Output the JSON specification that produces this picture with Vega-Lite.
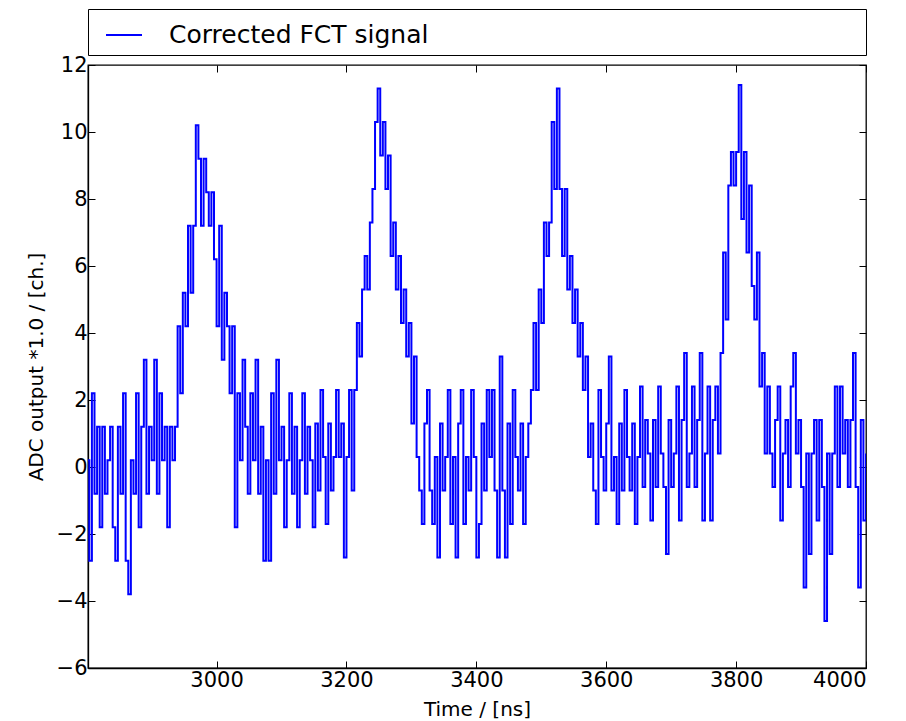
{
"$schema": "https://vega.github.io/schema/vega-lite/v6.json",
"width": 778, "height": 603,
"autosize": {"type": "none"},
"padding": {"left": 88, "top": 65, "right": 40, "bottom": 53},
"background": "white",
"config": {
 "font": "DejaVu Sans",
 "view": {"stroke": "#000", "strokeWidth": 1.3},
 "axis": {"grid": false, "domainColor": "#000", "domainWidth": 1.3, "tickColor": "#000", "tickSize": -7, "tickWidth": 1, "labelFont": "DejaVu Sans", "labelFontSize": 21, "labelColor": "#000", "titleFont": "DejaVu Sans", "titleFontSize": 20, "titleFontWeight": "normal", "titleColor": "#000"}
},
"data": {"values": [
{"t":2800,"v":0.2},{"t":2804,"v":-2.8},{"t":2808,"v":2.2},{"t":2812,"v":-0.8},{"t":2816,"v":1.2},{"t":2820,"v":-1.8},{"t":2824,"v":1.2},{"t":2828,"v":-0.8},{"t":2832,"v":0.2},{"t":2836,"v":1.2},
{"t":2840,"v":-1.8},{"t":2844,"v":-2.8},{"t":2848,"v":1.2},{"t":2852,"v":-0.8},{"t":2856,"v":2.2},{"t":2860,"v":-2.8},{"t":2864,"v":-3.8},{"t":2868,"v":0.2},{"t":2872,"v":-0.8},{"t":2876,"v":2.2},
{"t":2880,"v":-1.8},{"t":2884,"v":1.2},{"t":2888,"v":3.2},{"t":2892,"v":-0.8},{"t":2896,"v":1.2},{"t":2900,"v":0.2},{"t":2904,"v":3.2},{"t":2908,"v":-0.8},{"t":2912,"v":2.2},{"t":2916,"v":0.2},
{"t":2920,"v":1.2},{"t":2924,"v":-1.8},{"t":2928,"v":1.2},{"t":2932,"v":0.2},{"t":2936,"v":1.2},{"t":2940,"v":4.2},{"t":2944,"v":2.2},{"t":2948,"v":5.2},{"t":2952,"v":4.2},{"t":2956,"v":7.2},
{"t":2960,"v":5.2},{"t":2964,"v":7.2},{"t":2968,"v":10.2},{"t":2972,"v":9.2},{"t":2976,"v":7.2},{"t":2980,"v":9.2},{"t":2984,"v":8.2},{"t":2988,"v":7.2},{"t":2992,"v":8.2},{"t":2996,"v":6.2},
{"t":3000,"v":4.2},{"t":3004,"v":7.2},{"t":3008,"v":3.2},{"t":3012,"v":5.2},{"t":3016,"v":4.2},{"t":3020,"v":2.2},{"t":3024,"v":4.2},{"t":3028,"v":-1.8},{"t":3032,"v":2.2},{"t":3036,"v":0.2},
{"t":3040,"v":3.2},{"t":3044,"v":1.2},{"t":3048,"v":-0.8},{"t":3052,"v":2.2},{"t":3056,"v":0.2},{"t":3060,"v":3.2},{"t":3064,"v":-0.8},{"t":3068,"v":1.2},{"t":3072,"v":-2.8},{"t":3076,"v":0.2},
{"t":3080,"v":-2.8},{"t":3084,"v":2.2},{"t":3088,"v":-0.8},{"t":3092,"v":3.2},{"t":3096,"v":0.2},{"t":3100,"v":1.2},{"t":3104,"v":-1.8},{"t":3108,"v":0.2},{"t":3112,"v":2.2},{"t":3116,"v":-0.8},
{"t":3120,"v":1.2},{"t":3124,"v":-1.8},{"t":3128,"v":0.2},{"t":3132,"v":2.2},{"t":3136,"v":-0.8},{"t":3140,"v":1.2},{"t":3144,"v":0.2},{"t":3148,"v":-1.8},{"t":3152,"v":1.3},{"t":3156,"v":-0.7},
{"t":3160,"v":2.3},{"t":3164,"v":0.3},{"t":3168,"v":-1.7},{"t":3172,"v":1.3},{"t":3176,"v":-0.7},{"t":3180,"v":0.3},{"t":3184,"v":2.3},{"t":3188,"v":0.3},{"t":3192,"v":1.3},{"t":3196,"v":-2.7},
{"t":3200,"v":0.3},{"t":3204,"v":2.3},{"t":3208,"v":-0.7},{"t":3212,"v":2.3},{"t":3216,"v":4.3},{"t":3220,"v":3.3},{"t":3224,"v":5.3},{"t":3228,"v":6.3},{"t":3232,"v":5.3},{"t":3236,"v":7.3},
{"t":3240,"v":8.3},{"t":3244,"v":10.3},{"t":3248,"v":11.3},{"t":3252,"v":9.3},{"t":3256,"v":10.3},{"t":3260,"v":8.3},{"t":3264,"v":9.3},{"t":3268,"v":6.3},{"t":3272,"v":7.3},{"t":3276,"v":5.3},
{"t":3280,"v":6.3},{"t":3284,"v":4.3},{"t":3288,"v":5.3},{"t":3292,"v":3.3},{"t":3296,"v":4.3},{"t":3300,"v":1.3},{"t":3304,"v":3.3},{"t":3308,"v":0.3},{"t":3312,"v":-0.7},{"t":3316,"v":-1.7},
{"t":3320,"v":1.3},{"t":3324,"v":2.3},{"t":3328,"v":-0.7},{"t":3332,"v":-1.7},{"t":3336,"v":0.3},{"t":3340,"v":-2.7},{"t":3344,"v":1.3},{"t":3348,"v":-0.7},{"t":3352,"v":0.3},{"t":3356,"v":2.3},
{"t":3360,"v":-1.7},{"t":3364,"v":0.3},{"t":3368,"v":-2.7},{"t":3372,"v":1.3},{"t":3376,"v":2.3},{"t":3380,"v":-1.7},{"t":3384,"v":0.3},{"t":3388,"v":-0.7},{"t":3392,"v":2.3},{"t":3396,"v":0.3},
{"t":3400,"v":-2.7},{"t":3404,"v":-1.7},{"t":3408,"v":1.3},{"t":3412,"v":-0.7},{"t":3416,"v":2.3},{"t":3420,"v":0.3},{"t":3424,"v":2.3},{"t":3428,"v":-0.7},{"t":3432,"v":-2.7},{"t":3436,"v":3.3},
{"t":3440,"v":-0.7},{"t":3444,"v":-2.7},{"t":3448,"v":1.3},{"t":3452,"v":-1.7},{"t":3456,"v":2.3},{"t":3460,"v":0.3},{"t":3464,"v":-0.7},{"t":3468,"v":1.3},{"t":3472,"v":-1.7},{"t":3476,"v":0.3},
{"t":3480,"v":1.3},{"t":3484,"v":2.3},{"t":3488,"v":4.3},{"t":3492,"v":2.3},{"t":3496,"v":5.3},{"t":3500,"v":4.3},{"t":3504,"v":7.3},{"t":3508,"v":6.3},{"t":3512,"v":7.3},{"t":3516,"v":10.3},
{"t":3520,"v":8.3},{"t":3524,"v":11.3},{"t":3528,"v":8.3},{"t":3532,"v":6.3},{"t":3536,"v":8.3},{"t":3540,"v":5.3},{"t":3544,"v":6.3},{"t":3548,"v":4.3},{"t":3552,"v":5.3},{"t":3556,"v":3.3},
{"t":3560,"v":4.3},{"t":3564,"v":2.3},{"t":3568,"v":3.3},{"t":3572,"v":0.3},{"t":3576,"v":1.3},{"t":3580,"v":-0.7},{"t":3584,"v":-1.7},{"t":3588,"v":2.3},{"t":3592,"v":0.3},{"t":3596,"v":-0.7},
{"t":3600,"v":1.3},{"t":3604,"v":3.3},{"t":3608,"v":-0.7},{"t":3612,"v":0.3},{"t":3616,"v":-1.7},{"t":3620,"v":1.3},{"t":3624,"v":-0.7},{"t":3628,"v":2.3},{"t":3632,"v":0.3},{"t":3636,"v":-0.7},
{"t":3640,"v":1.3},{"t":3644,"v":-1.7},{"t":3648,"v":0.3},{"t":3652,"v":2.4},{"t":3656,"v":-0.6},{"t":3660,"v":1.4},{"t":3664,"v":0.4},{"t":3668,"v":-1.6},{"t":3672,"v":1.4},{"t":3676,"v":-0.6},
{"t":3680,"v":2.4},{"t":3684,"v":0.4},{"t":3688,"v":-0.6},{"t":3692,"v":-2.6},{"t":3696,"v":1.4},{"t":3700,"v":-0.6},{"t":3704,"v":0.4},{"t":3708,"v":2.4},{"t":3712,"v":-1.6},{"t":3716,"v":1.4},
{"t":3720,"v":3.4},{"t":3724,"v":-0.6},{"t":3728,"v":0.4},{"t":3732,"v":2.4},{"t":3736,"v":-0.6},{"t":3740,"v":1.4},{"t":3744,"v":3.4},{"t":3748,"v":-1.6},{"t":3752,"v":0.4},{"t":3756,"v":2.4},
{"t":3760,"v":-1.6},{"t":3764,"v":1.4},{"t":3768,"v":2.4},{"t":3772,"v":0.4},{"t":3776,"v":3.4},{"t":3780,"v":6.4},{"t":3784,"v":4.4},{"t":3788,"v":8.4},{"t":3792,"v":9.4},{"t":3796,"v":8.4},
{"t":3800,"v":9.4},{"t":3804,"v":11.4},{"t":3808,"v":7.4},{"t":3812,"v":9.4},{"t":3816,"v":6.4},{"t":3820,"v":8.4},{"t":3824,"v":5.4},{"t":3828,"v":4.4},{"t":3832,"v":6.4},{"t":3836,"v":2.4},
{"t":3840,"v":3.4},{"t":3844,"v":0.4},{"t":3848,"v":2.4},{"t":3852,"v":0.4},{"t":3856,"v":-0.6},{"t":3860,"v":1.4},{"t":3864,"v":2.4},{"t":3868,"v":-1.6},{"t":3872,"v":0.4},{"t":3876,"v":1.4},
{"t":3880,"v":-0.6},{"t":3884,"v":2.4},{"t":3888,"v":3.4},{"t":3892,"v":0.4},{"t":3896,"v":1.4},{"t":3900,"v":-0.6},{"t":3904,"v":-3.6},{"t":3908,"v":0.4},{"t":3912,"v":-2.6},{"t":3916,"v":0.4},
{"t":3920,"v":1.4},{"t":3924,"v":-1.6},{"t":3928,"v":1.4},{"t":3932,"v":-0.6},{"t":3936,"v":-4.6},{"t":3940,"v":0.4},{"t":3944,"v":-2.6},{"t":3948,"v":0.4},{"t":3952,"v":2.4},{"t":3956,"v":-0.6},
{"t":3960,"v":2.4},{"t":3964,"v":0.4},{"t":3968,"v":1.4},{"t":3972,"v":-0.6},{"t":3976,"v":1.4},{"t":3980,"v":3.4},{"t":3984,"v":-0.6},{"t":3988,"v":-3.6},{"t":3992,"v":1.4},{"t":3996,"v":-1.6},
{"t":4000,"v":0.4}
]},
"layer": [
 {
  "mark": {"type": "line", "strokeWidth": 2, "clip": true, "interpolate": "step-after"},
  "encoding": {
   "x": {"field": "t", "type": "quantitative", "scale": {"domain": [2802, 4000], "nice": false, "zero": false},
         "axis": {"orient": "bottom", "values": [3000, 3200, 3400, 3600, 3800, 4000], "format": "d", "title": "Time / [ns]", "labelPadding": 8, "titlePadding": 9}},
   "y": {"field": "v", "type": "quantitative", "scale": {"domain": [-6, 12], "nice": false, "zero": false},
         "axis": {"orient": "left", "values": [-6, -4, -2, 0, 2, 4, 6, 8, 10, 12], "format": "d", "title": "ADC output *1.0 / [ch.]", "labelPadding": 8, "titlePadding": 10}},
   "color": {"datum": "Corrected FCT signal", "type": "nominal", "scale": {"domain": ["Corrected FCT signal", "\u00a0"], "range": ["#0000ff", "transparent"]},
             "legend": {"orient": "none", "direction": "horizontal", "columnPadding": 356, "legendX": 0, "legendY": -56, "title": null, "symbolType": "stroke", "symbolSize": 1296, "symbolStrokeWidth": 2, "labelFont": "DejaVu Sans", "labelFontSize": 25, "labelColor": "#000", "labelLimit": 2000, "labelOffset": 26, "padding": 7, "symbolOffset": 10, "strokeColor": "#000", "fillColor": "white"}}
  }
 },
 {
  "mark": {"type": "line", "opacity": 0},
  "encoding": {
   "x": {"field": "t", "type": "quantitative", "scale": {"domain": [2802, 4000], "nice": false, "zero": false},
         "axis": {"orient": "top", "values": [3000, 3200, 3400, 3600, 3800, 4000], "labels": false, "title": null, "domain": false}},
   "y": {"field": "v", "type": "quantitative", "scale": {"domain": [-6, 12], "nice": false, "zero": false},
         "axis": {"orient": "right", "values": [-6, -4, -2, 0, 2, 4, 6, 8, 10, 12], "labels": false, "title": null, "domain": false}}
  }
 }
],
"resolve": {"axis": {"x": "independent", "y": "independent"}}
}
